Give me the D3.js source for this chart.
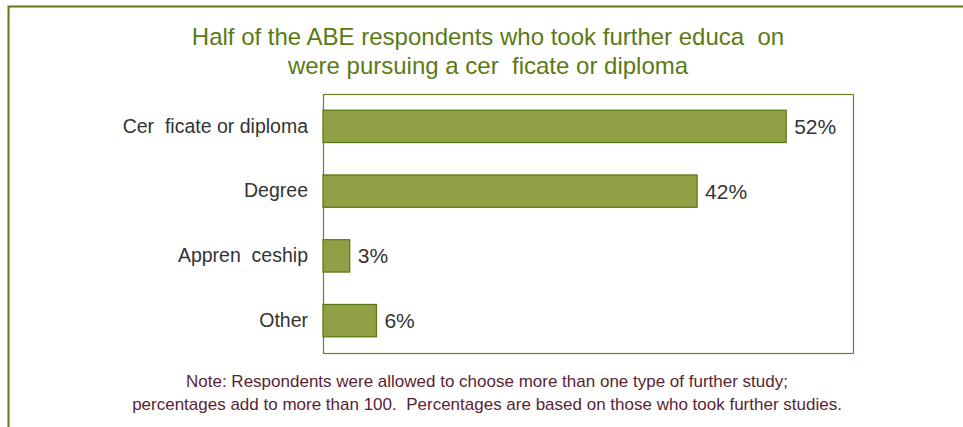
<!DOCTYPE html>
<html><head><meta charset="utf-8">
<script src="https://cdn.jsdelivr.net/npm/d3@7"></script>
<style>body{margin:0;background:#fff}svg{display:block}text{white-space:pre}</style>
</head><body>
<script>
const categories = ["Cer  ficate or diploma", "Degree", "Appren  ceship", "Other"];
const values = [52, 42, 3, 6];
const valueLabels = ["52%", "42%", "3%", "6%"];
const titleLines = ["Half of the ABE respondents who took further educa  on", "were pursuing a cer  ficate or diploma"];
const noteLines = ["Note: Respondents were allowed to choose more than one type of further study;", "percentages add to more than 100.  Percentages are based on those who took further studies."];

const W = 963, H = 427;
const svg = d3.select("body").append("svg").attr("width", W).attr("height", H);
const font = "'Liberation Sans Narrow', 'Arial Narrow', 'Liberation Sans', sans-serif";

// outer frame (top and left)
svg.append("path").attr("d", `M8.5,${H} V6.5 H${W}`).attr("fill", "none").attr("stroke", "#5f7a12").attr("stroke-width", 2);

const plot = {l: 323, r: 853, t: 94, b: 353};
const x = d3.scaleLinear().domain([0, 59.5]).range([plot.l, plot.r]);
const y = d3.scaleBand().domain(categories).range([plot.t, plot.b]).paddingInner(0.5).paddingOuter(0.25);

svg.append("rect").attr("x", plot.l + 0.5).attr("y", plot.t + 0.5).attr("width", plot.r - plot.l).attr("height", plot.b - plot.t)
  .attr("fill", "none").attr("stroke", "#6b8420").attr("stroke-width", 1.2);

svg.selectAll("rect.bar").data(values).enter().append("rect").attr("class", "bar")
  .attr("x", x(0)).attr("y", (d, i) => y(categories[i]))
  .attr("width", d => x(d) - x(0)).attr("height", y.bandwidth())
  .attr("fill", "#8fa046").attr("stroke", "#5a7610").attr("stroke-width", 1.2);

const yAxis = d3.axisLeft(y).tickSize(0).tickPadding(15);
const ga = svg.append("g").attr("transform", `translate(${plot.l},0)`).call(yAxis);
ga.select(".domain").remove();
ga.selectAll("text").attr("font-family", font).attr("font-size", 19.5).attr("fill", "#333");

svg.selectAll("text.val").data(values).enter().append("text").attr("class", "val")
  .attr("x", d => x(d) + 8).attr("y", (d, i) => y(categories[i]) + y.bandwidth() / 2)
  .attr("dy", "0.36em").attr("font-family", font).attr("font-size", 21).attr("fill", "#333")
  .text((d, i) => valueLabels[i]);

svg.selectAll("text.title").data(titleLines).enter().append("text").attr("class", "title")
  .attr("x", 488).attr("y", (d, i) => 45 + i * 29).attr("text-anchor", "middle")
  .attr("font-family", font).attr("font-size", 24).attr("fill", "#5b7a14").text(d => d);

svg.selectAll("text.note").data(noteLines).enter().append("text").attr("class", "note")
  .attr("x", 487).attr("y", (d, i) => 387 + i * 23).attr("text-anchor", "middle")
  .attr("font-family", font).attr("font-size", 17).attr("fill", "#5a1f33").text(d => d);
</script>
</body></html>
